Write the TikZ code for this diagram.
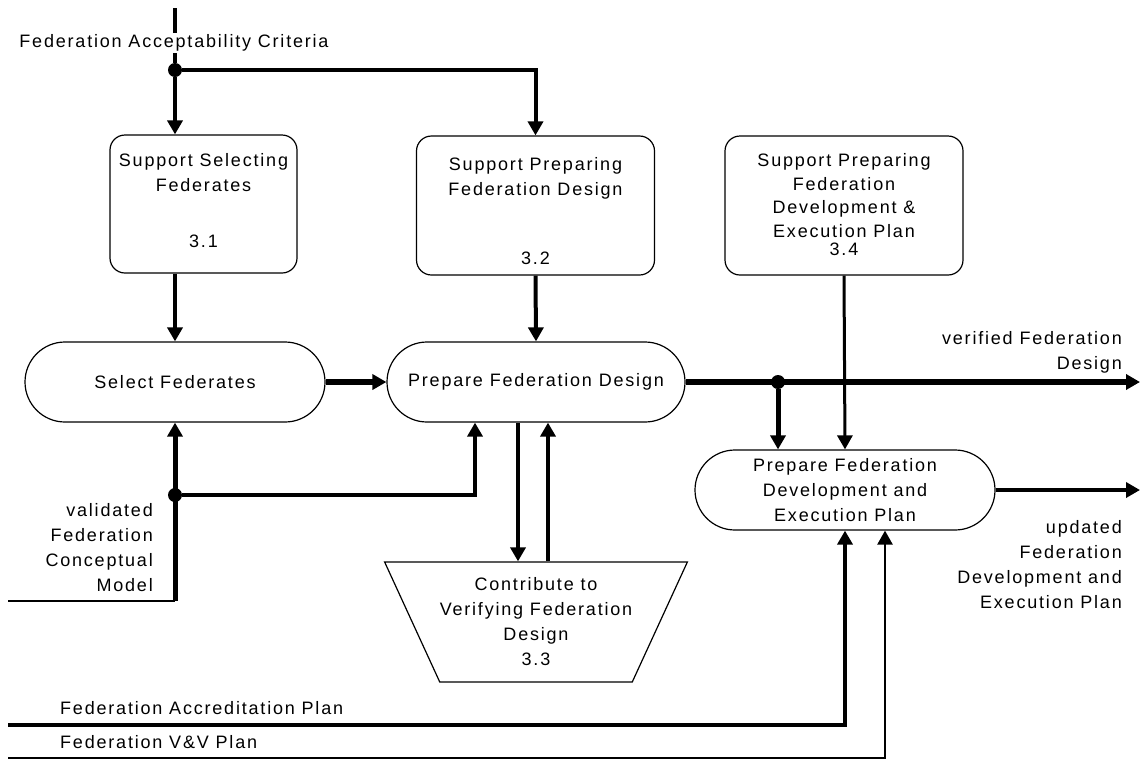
\documentclass[tikz,border=0pt]{standalone}
\usepackage{fontspec}
\setmainfont[LetterSpace=10]{Liberation Sans}
\usetikzlibrary{positioning,shapes.geometric,arrows.meta}

\begin{document}
\begin{tikzpicture}[x=1pt, y=-1pt,
						font=\fontsize{18}{25}\selectfont,
						support/.style={rectangle, draw=black, line width=1.2pt, rounded corners=15pt, minimum width=238pt, minimum height=139pt},
						activity/.style={rectangle, draw=black, line width=1.2pt, rounded corners=40pt, minimum width=300pt, minimum height=80pt, align=center, fill=white},
						verify/.style={trapezium, draw=black, line width=1.2pt, shape border rotate=180, trapezium angle=58, trapezium stretches body, minimum width=298pt, minimum height=120pt, align=center, inner sep=0pt},
						flowtext/.style={inner sep=0pt, align=center},
						junction/.style={circle, fill=black, inner sep=0pt, minimum size=14pt}
					]
					\useasboundingbox (0,0) rectangle (1140,761);
					% support boxes
					\node[support, minimum width=187pt, minimum height=138pt] (sel31) at (203.5,204) {};
					\node[flowtext] (sel31-title) at (203.5,172.5) {Support Selecting\\Federates};
					\node[flowtext, above=26pt of sel31.south] (sel31-num) {3.1};
					\node[support] (des32) at (535.5,205.5) {};
					\node[flowtext] (des32-title) at (535.5,178) {Support Preparing\\Federation Design};
					\node[flowtext, above=11pt of des32.south] (des32-num) {3.2};
					\node[support] (dev34) at (844,205.5) {};
					\node[flowtext, font=\fontsize{18}{23.5}\selectfont] (dev34-title) at (844,195.5) {Support Preparing\\Federation\\Development \&\\Execution Plan};
					\node[flowtext, above=20pt of dev34.south] (dev34-num) {3.4};
					% activities
					\node[activity] (select) at (175,382) {Select Federates};
					\node[activity, minimum width=298pt] (prepdesign) at (536,382) {Prepare Federation Design};
					\node[activity] (prepdev) at (845,490) {Prepare Federation\\Development and\\Execution Plan};
					\node[verify] (verify) at (536,622) {Contribute to\\Verifying Federation\\Design\\3.3};
					% junctions and free ends
					\node[junction] (acc-split) at (175,70) {};
					\node[junction] (cm-split) at (175,495) {};
					\node[junction] (vd-split) at (778,382) {};
					\coordinate (acc-in) at (175,8);
					\coordinate (cm-in) at (8,601);
					\coordinate (accr-in) at (8,725);
					\coordinate (vv-in) at (8,758);
					\coordinate (vd-out) at (1140,382);
					\coordinate (dev-out) at (1140,490);
					\begin{scope}[line width=4pt, -{Triangle[length=14pt, width=15pt]}]
					\draw[-] (acc-in) -- (acc-split);
					\draw (acc-split) -- (acc-split |- sel31.north);
					\draw (acc-split) -| (des32.north);
					\draw (acc-split |- sel31.south) -- (select.north);
					\draw (des32.south) -- (prepdesign.north);
					\draw[line width=6pt] (select.east) -- (prepdesign.west);
					\draw[-, line width=2pt] (cm-in) -- (cm-in -| select.south);
					\draw[line width=5pt] (cm-in -| select.south) -- (select.south);
					\draw (cm-split) -| ([xshift=-61pt]prepdesign.south);
					\draw ([xshift=-18pt]prepdesign.south) -- ([xshift=-18pt]prepdesign.south |- verify.north);
					\draw ([xshift=12pt]prepdesign.south |- verify.north) -- ([xshift=12pt]prepdesign.south);
					\draw[line width=6pt] (prepdesign.east) -- (vd-out);
					\draw[line width=5pt] (vd-split) -- (vd-split |- prepdev.north);
					\draw[line width=3pt] (dev34.south) -- (prepdev.north);
					\draw (prepdev.east) -- (dev-out);
					\draw (accr-in) -| (prepdev.south);
					\draw[line width=2.5pt] (vv-in) -| ([xshift=40pt]prepdev.south);
					\end{scope}
					% flow labels
					\node[flowtext, fill=white, inner sep=2pt] (accept) at (174,43) {Federation Acceptability Criteria};
					\node[flowtext, align=right, anchor=east] (cmodel) at (153,548) {validated\\Federation\\Conceptual\\Model};
					\node[flowtext, align=right, anchor=east] (vdesign) at (1122,352) {verified Federation\\Design};
					\node[flowtext, align=right, anchor=east] (updplan) at (1122,565) {updated\\Federation\\Development and\\Execution Plan};
					\node[flowtext, anchor=west] (accrplan) at (60,708) {Federation Accreditation Plan};
					\node[flowtext, anchor=west] (vvplan) at (60,742) {Federation V\&V Plan};
					\end{tikzpicture}
\end{document}
